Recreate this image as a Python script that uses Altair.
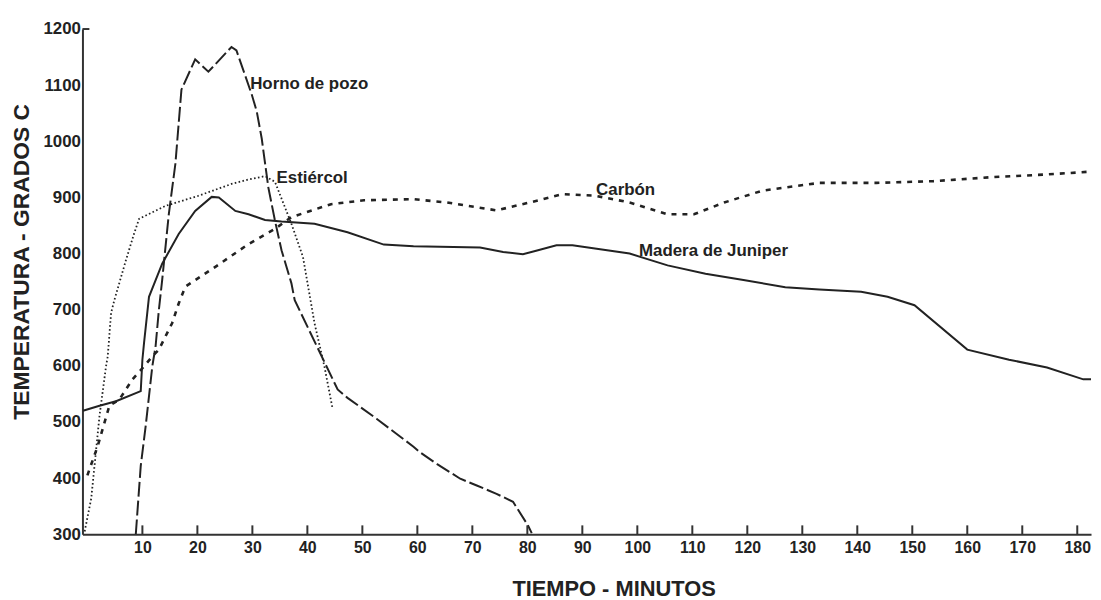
import altair as alt
import pandas as pd

# ---- data ----
x_ticks = [10, 20, 30, 40, 50, 60, 70, 80, 90, 100, 110, 120, 130, 140, 150, 160, 170, 180]
y_ticks = [300, 400, 500, 600, 700, 800, 900, 1000, 1100, 1200]

horno_t = [8.8, 9.7, 10.6, 11.8, 12.4, 13.0, 13.6, 14.8, 16.0, 17.1, 19.6, 22.0, 26.2, 27.1,
           29.9, 30.8, 31.7, 32.9, 34.1, 35.3, 37.1, 37.7, 45.5, 47.3, 52.7, 59.3, 60.5, 63.6,
           67.8, 70.8, 74.4, 77.4, 80.1, 80.8]
horno_v = [300, 422, 493, 599, 635, 700, 753, 870, 960, 1092, 1146, 1124, 1168, 1162,
           1083, 1053, 1005, 918, 859, 806, 747, 717, 558, 543, 505, 456, 446, 425,
           399, 387, 372, 358, 316, 302]

estiercol_t = [-0.5, 0.7, 1.6, 2.2, 3.4, 3.7, 4.3, 4.9, 7.0, 8.5, 9.4, 14.2, 20.2, 26.2, 29.3,
               32.3, 34.1, 37.1, 39.2, 41.3, 43.1, 44.6]
estiercol_v = [305, 364, 452, 511, 600, 617, 694, 717, 788, 836, 862, 885, 903, 924, 932,
               938, 928, 853, 794, 676, 599, 523]

carbon_t = [0.0, 1.9, 4.0, 5.8, 8.2, 10.3, 11.8, 13.0, 15.4, 16.6, 17.8, 23.2, 29.3, 34.1,
            37.1, 44.3, 50.3, 59.3, 65.4, 74.4, 80.4, 86.4, 92.4, 98.6, 105.5, 110.3, 115.8,
            122.7, 133.1, 143.5, 153.8, 164.2, 174.5, 182.5]
carbon_v = [405, 458, 529, 540, 576, 599, 617, 629, 676, 711, 741, 776, 817, 844,
            865, 888, 895, 897, 891, 877, 891, 906, 903, 891, 870, 870, 891,
            912, 926, 926, 929, 936, 941, 946]

juniper_t = [-0.8, 2.2, 5.2, 9.7, 10.0, 10.3, 11.2, 13.6, 16.6, 19.6, 22.6, 23.9, 26.9,
             29.3, 32.3, 35.3, 41.3, 47.3, 53.9, 59.3, 71.4, 75.6, 79.2, 81.6, 85.3, 88.2,
             98.6, 105.5, 112.4, 119.3, 126.9, 133.1, 140.7, 145.5, 150.4, 160.0, 167.6,
             174.5, 181.1, 182.5]
juniper_v = [520, 529, 537, 555, 611, 641, 723, 782, 835, 876, 901, 900, 876,
             870, 860, 857, 853, 838, 816, 813, 811, 803, 799, 805, 815, 815,
             800, 779, 764, 753, 740, 736, 732, 723, 708, 629, 611,
             597, 576, 576]

label_text = ["Horno de pozo", "Estiércol", "Carbón", "Madera de Juniper"]
label_t = [29.6, 34.4, 92.5, 100.3]
label_v = [1102, 935, 913, 804]

# ---- build tables ----
def frame(ts, vs, name):
    return pd.DataFrame({"t": ts, "v": vs, "serie": name, "i": list(range(len(ts)))})

W, H = 1016, 509
FONT = "Liberation Sans"
INK = "#222222"

x_scale = alt.Scale(domain=[-0.9, 182.5], nice=False, zero=False)
y_scale = alt.Scale(domain=[300, 1200], nice=False, zero=False)

x_axis = alt.Axis(values=x_ticks, format="d", title="TIEMPO - MINUTOS", grid=False,
                  ticks=False, tickSize=0, labelPadding=13, labelBaseline="middle",
                  labelFont=FONT, labelFontSize=16, labelFontWeight="bold", labelColor=INK,
                  labelFlush=False, labelOverlap=False,
                  titleFont=FONT, titleFontSize=22, titleFontWeight="bold", titleColor=INK,
                  titleX=535, titleY=55, titleBaseline="middle", titleAlign="center",
                  domainColor="#333333", domainWidth=2)
y_axis = alt.Axis(values=y_ticks, format="d", title="TEMPERATURA - GRADOS C", grid=False,
                  ticks=False, tickSize=0, labelPadding=2, labelBaseline="middle",
                  labelFont=FONT, labelFontSize=17, labelFontWeight="bold", labelColor=INK,
                  labelFlush=False, labelOverlap=False,
                  titleFont=FONT, titleFontSize=23, titleFontWeight="bold", titleColor=INK,
                  titleX=-61, titleY=234, titleAngle=270, titleBaseline="middle",
                  titleAlign="center", domainColor="#333333", domainWidth=2)

X = alt.X("t:Q", scale=x_scale, axis=x_axis)
Y = alt.Y("v:Q", scale=y_scale, axis=y_axis)


def line(df, width, dash=None):
    if dash:
        mk = alt.Chart(df).mark_line(color=INK, strokeWidth=width, strokeDash=dash, clip=True)
    else:
        mk = alt.Chart(df).mark_line(color=INK, strokeWidth=width, clip=True)
    return mk.encode(x=X, y=Y, order="i:Q")


juniper = line(frame(juniper_t, juniper_v, "Madera de Juniper"), 2)
carbon = line(frame(carbon_t, carbon_v, "Carbón"), 2.6, [5, 6])
estiercol = line(frame(estiercol_t, estiercol_v, "Estiércol"), 1.8, [1.6, 2.4])
horno = line(frame(horno_t, horno_v, "Horno de pozo"), 2, [15, 4])

tick_df = pd.DataFrame({"t": x_ticks})
inner_ticks = alt.Chart(tick_df).mark_rule(color="#333333", strokeWidth=2).encode(
    x=X, y=alt.value(H), y2=alt.value(H - 9))

top_df = pd.DataFrame({"v": [max(y_ticks)]})
top_tick = alt.Chart(top_df).mark_rule(color="#333333", strokeWidth=2).encode(
    y=Y, x=alt.value(0), x2=alt.value(7))

lab_df = pd.DataFrame({"t": label_t, "v": label_v, "txt": label_text})
labels = alt.Chart(lab_df).mark_text(align="left", baseline="middle", font=FONT,
                                     fontSize=17, fontWeight="bold", color=INK).encode(
    x=X, y=Y, text="txt:N")

chart = alt.layer(juniper, carbon, estiercol, horno, inner_ticks, top_tick, labels).properties(
    width=W, height=H,
    autosize=alt.AutoSizeParams(type="none"),
    padding={"left": 75, "top": 19, "right": 2, "bottom": 64},
    background="white",
).configure_view(stroke=None)

chart.save("out.html", embed_options={"renderer": "svg", "actions": False})
